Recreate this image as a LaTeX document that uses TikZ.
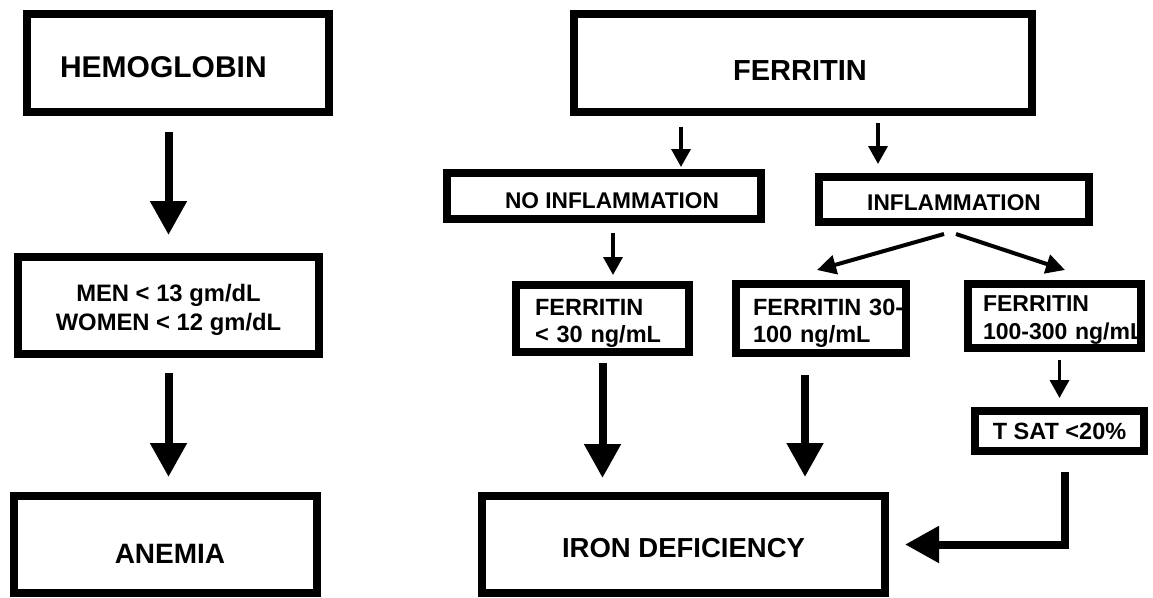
\documentclass[tikz,border=0pt]{standalone}
\usepackage{fontspec}
\setmainfont{Liberation Sans}
\usetikzlibrary{arrows.meta}
\newcommand{\fs}[2]{\fontsize{#1}{#2}\selectfont}
\newcommand{\lowr}[1]{\rule{0pt}{#1}}
\begin{document}
\begin{tikzpicture}[x=1pt,y=-1pt,
  box/.style={draw=black, line width=8pt, inner sep=0pt, font=\bfseries},
  bigarr/.style={line width=8pt, -{Triangle[width=35pt,length=34pt]}},
  smallarr/.style={line width=3.5pt, -{Triangle[width=19pt,length=18pt]}},
  diagarr/.style={line width=4pt, -{Triangle[width=19pt,length=19pt]}}]
\useasboundingbox (0,0) rectangle (1153,597);

% left column
\node[box, minimum width=302pt, minimum height=98pt, text width=236pt, align=left,
      font=\bfseries\fs{30}{36}, text height=29.5pt, text depth=0pt] (hb) at (178,63) {HEMOGLOBIN};
\node[box, minimum width=301pt, minimum height=97pt, align=center,
      font=\bfseries\fs{23.8}{29}] (men) at (168.5,305.5) {\lowr{25.4pt}MEN < 13 gm/dL\\WOMEN < 12 gm/dL};
\node[box, minimum width=303pt, minimum height=97pt,
      font=\bfseries\fs{28}{34}, text height=37pt, text depth=0pt] (anemia) at (165.5,544.5) {\hspace*{9pt}ANEMIA};

% right part
\node[box, minimum width=458pt, minimum height=98pt,
      font=\bfseries\fs{29}{35}, text height=34.8pt, text depth=0pt] (fer) at (803,63) {\hspace*{-6pt}FERRITIN};
\node[box, minimum width=314pt, minimum height=46pt,
      font=\bfseries\fs{22.7}{27}, text height=24.3pt, text depth=0pt] (noinf) at (604,196) {\hspace*{16pt}NO INFLAMMATION};
\node[box, minimum width=270pt, minimum height=45pt,
      font=\bfseries\fs{22.7}{27}, text height=21.3pt, text depth=0pt] (infl) at (954,199.5) {INFLAMMATION};
\node[box, minimum width=173pt, minimum height=67pt, text width=135pt, align=left,
      font=\bfseries\fs{23.5}{27}] (f30) at (602.5,318.5) {\lowr{26pt}FERRITIN\\\mbox{< 30 ng/mL}};
\node[box, minimum width=170pt, minimum height=69pt, text width=136pt, align=left,
      font=\bfseries\fs{23.5}{27}] (f3100) at (821,318.5) {\mbox{\lowr{26pt}FERRITIN 30-}\\\mbox{100 ng/mL}};
\node[box, minimum width=173pt, minimum height=64pt, text width=143pt, align=left,
      font=\bfseries\fs{23}{28}] (f100300) at (1054.5,316) {\lowr{24.5pt}FERRITIN\\\mbox{100-300 ng/mL}};
\node[box, minimum width=169pt, minimum height=40pt,
      font=\bfseries\fs{23.5}{28}] (tsat) at (1059.5,431) {T SAT <20\%};
\node[box, minimum width=403pt, minimum height=97pt,
      font=\bfseries\fs{27.5}{33}, text height=26.7pt, text depth=0pt] (iron) at (683.5,544.5) {IRON DEFICIENCY};

% connectors
\draw[bigarr, shorten <=16pt, shorten >=18pt] (hb.south -| men.north) -- (men.north);
\draw[bigarr, shorten <=15pt, shorten >=15pt] (men.south) -- (men.south |- anemia.north);

\draw[smallarr, shorten <=11pt, shorten >=2pt] ([xshift=-122pt]fer.south) -- ([xshift=-122pt]fer.south |- noinf.north);
\draw[smallarr, shorten <=7pt, shorten >=9pt] ([xshift=75pt]fer.south) -- ([xshift=75pt]fer.south |- infl.north);
\draw[smallarr, shorten <=10pt, shorten >=6pt] ([xshift=9pt]noinf.south) -- ([xshift=9pt]noinf.south |- f30.north);
\draw[diagarr] ([xshift=-10pt,yshift=-8pt]infl.south) -- ([xshift=-4pt,yshift=10pt]f3100.north);
\draw[diagarr] ([xshift=2pt,yshift=-8pt]infl.south) -- ([xshift=10.5pt,yshift=10pt]f100300.north);
\draw[smallarr, shorten <=8pt, shorten >=9pt] (f100300.south -| tsat.north) -- (tsat.north);

\draw[bigarr, shorten <=7pt, shorten >=14pt] (f30.south) -- (f30.south |- iron.north);
\draw[bigarr, shorten <=18pt, shorten >=15pt] ([xshift=-16pt]f3100.south) -- ([xshift=-16pt]f3100.south |- iron.north);
\draw[bigarr, shorten <=17pt, shorten >=16pt] ([xshift=5.5pt]tsat.south) |- (iron.east);
\end{tikzpicture}
\end{document}
